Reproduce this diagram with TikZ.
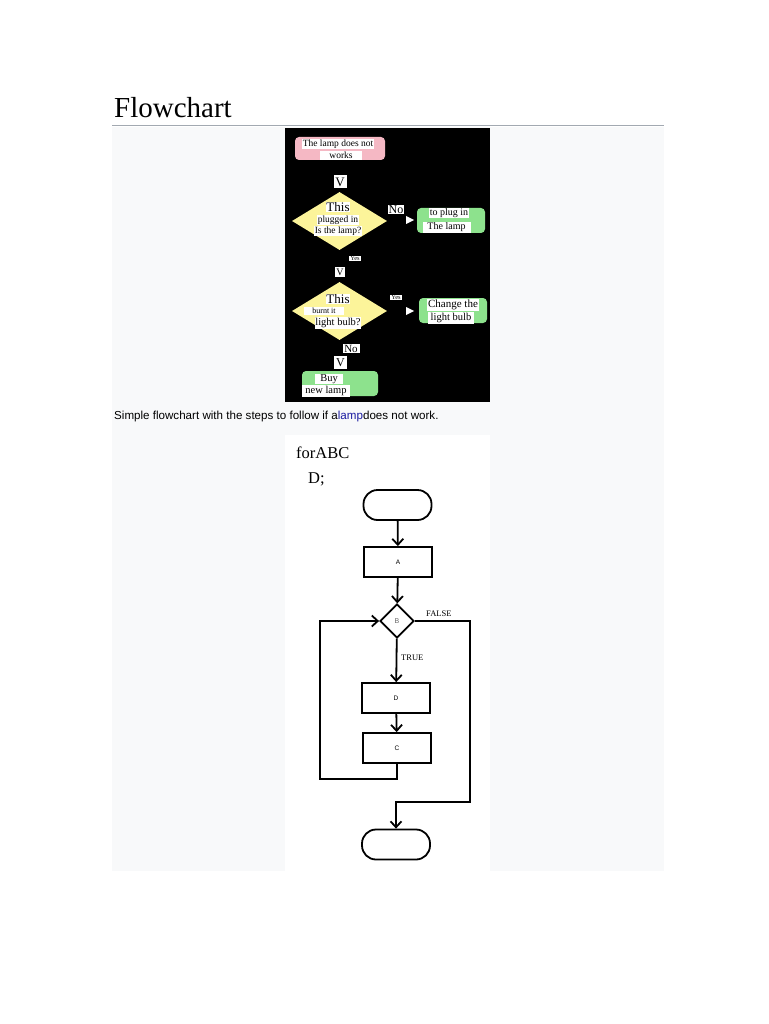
\documentclass[tikz,border=0pt]{standalone}
\usepackage{fontspec}
\setmainfont{Liberation Serif}
\setsansfont{Liberation Sans}
\usetikzlibrary{shapes.geometric,arrows.meta}

\definecolor{panelgray}{HTML}{F8F9FA}
\definecolor{rulegray}{HTML}{A2A9B1}
\definecolor{lamppink}{HTML}{F5B8C4}
\definecolor{lampyellow}{HTML}{FCF49A}
\definecolor{lampgreen}{HTML}{8DE28D}
\definecolor{linkblue}{HTML}{1A1AA0}

\tikzset{
  tag/.style={fill=white, inner sep=0.8pt, text=black, font=\fontsize{9.5}{9.5}\selectfont},
  bigtag/.style={tag, font=\fontsize{13}{13}\selectfont},
  tinytag/.style={tag, font=\fontsize{6.5}{6.5}\selectfont},
  vtag/.style={tag, minimum width=13pt, minimum height=13pt, inner sep=0pt},
  lampbox/.style={rounded corners=4pt, inner sep=0pt},
  lampdiamond/.style={diamond, fill=lampyellow, inner sep=0pt, minimum width=95pt, minimum height=58pt},
  blk/.style={draw=black, line width=1.8pt, minimum width=68pt, minimum height=30pt, inner sep=0pt,
    font=\sffamily\fontsize{6.5}{6.5}\selectfont},
  term/.style={blk, rounded corners=14pt},
  flow/.style={line width=1.8pt, -{Straight Barb[length=6pt,width=11pt,line width=1.8pt]}}
}

\begin{document}
\begin{tikzpicture}[x=1pt,y=-1pt]
\useasboundingbox (0,0) rectangle (768,1024);
\fill[white] (0,0) rectangle (768,1024);

% page heading and panel
\node[anchor=base west, inner sep=0pt, font=\fontsize{29}{29}\selectfont] (title) at (114,118) {Flowchart};
\draw[rulegray, line width=0.8pt] (112,125) -- (664,125);
\fill[panelgray] (112,127) rectangle (664,871);

% lamp chart
\fill[black] (285,128) rectangle (490,402);
\node[lampbox, fill=lamppink, minimum width=90pt, minimum height=23pt] (start) at (340,148.5) {};
\node[tag] (startA) at (338,144) {The lamp does not};
\node[tag, minimum width=42pt] (startB) at (341,155.5) {works};

\node[vtag, font=\fontsize{13}{13}\selectfont] (v1) at (340,182) {V};
\node[lampdiamond] (plug) at (339.5,221) {};
\node[bigtag] (plugA) at (338,207) {This};
\node[tag] (plugB) at (338,220) {plugged in};
\node[tag] (plugC) at (338,231) {Is the lamp?};
\node[tag, font=\fontsize{12}{12}\selectfont] (no1) at (396,209.5) {No};
\fill[white] (406,216) -- (414,220) -- (406,224) -- cycle;
\node[lampbox, fill=lampgreen, minimum width=68pt, minimum height=25pt] (plugin) at (451,220.5) {};
\node[tag, font=\fontsize{10}{10}\selectfont] (pluginA) at (449,213) {to plug in};
\node[tag, font=\fontsize{10}{10}\selectfont, minimum width=48pt] (pluginB) at (446.5,227.5) {The lamp};

\node[tinytag] (yes1) at (355,258.5) {Yes};
\node[vtag, font=\fontsize{10}{10}\selectfont, minimum width=10pt, minimum height=10pt] (v2) at (340,272) {V};
\node[lampdiamond] (bulb) at (339.5,311) {};
\node[bigtag] (bulbA) at (338,299) {This};
\node[tag, font=\fontsize{8}{8}\selectfont, minimum width=40pt] (bulbB) at (324,311) {burnt it};
\node[tag, font=\fontsize{10.5}{10.5}\selectfont] (bulbC) at (338,323) {light bulb?};
\node[tinytag] (yes2) at (396,297.5) {Yes};
\fill[white] (406,307) -- (414,311) -- (406,315) -- cycle;
\node[lampbox, fill=lampgreen, minimum width=68pt, minimum height=25pt] (change) at (453,310.5) {};
\node[tag, font=\fontsize{11}{11}\selectfont] (changeA) at (453,305) {Change the};
\node[tag, font=\fontsize{10.5}{10.5}\selectfont, minimum width=46pt] (changeB) at (451,318) {light bulb};

\node[tag, font=\fontsize{11}{11}\selectfont, minimum width=17pt] (no2) at (351,348.5) {No};
\node[vtag, font=\fontsize{12}{12}\selectfont] (v3) at (340.5,362.5) {V};
\node[lampbox, fill=lampgreen, minimum width=76pt, minimum height=25pt] (buy) at (340,383.5) {};
\node[tag, font=\fontsize{10.5}{10.5}\selectfont, minimum width=28pt] (buyA) at (329,379) {Buy};
\node[tag, font=\fontsize{10.5}{10.5}\selectfont, minimum width=48pt] (buyB) at (326,391) {new lamp};

\node[anchor=base west, inner sep=0pt, font=\sffamily\fontsize{11.6}{11.6}\selectfont] (caption) at (114,419)
  {Simple flowchart with the steps to follow if a\textcolor{linkblue}{lamp}does not work.};

% for loop chart
\fill[white] (285,435) rectangle (490,871);
\node[anchor=base west, inner sep=0pt, font=\fontsize{16.5}{16.5}\selectfont] (code1) at (296,458) {forABC};
\node[anchor=base west, inner sep=0pt, font=\fontsize{16.5}{16.5}\selectfont] (code2) at (308,483) {D;};

\node[term] (begin) at (397.5,505) {};
\node[blk] (A) at (398,562) {A};
\node[diamond, draw=black, line width=1.8pt, minimum width=34pt, minimum height=34pt, inner sep=0pt,
  font=\sffamily\fontsize{7}{7}\selectfont, text=black!60] (B) at (397,621) {B};
\node[blk] (D) at (396,698) {D};
\node[blk] (C) at (397,748) {C};
\node[term] (end) at (396,844.5) {};

\node[anchor=base west, inner sep=0pt, font=\fontsize{8.5}{8.5}\selectfont] (false) at (426,616) {FALSE};
\node[anchor=base west, inner sep=0pt, font=\fontsize{8.5}{8.5}\selectfont] (true) at (401,660) {TRUE};

\coordinate (loopL) at (320,779);
\coordinate (falseR) at (470,802);

\draw[flow] (begin) -- (A);
\draw[flow] (A) -- (B);
\draw[flow] (B) -- (D);
\draw[flow] (D) -- (C);
\draw[flow] (C.south) |- (loopL) |- (B.west);
\draw[flow] (B.east) -| (falseR) -| (end.north);
\end{tikzpicture}
\end{document}
